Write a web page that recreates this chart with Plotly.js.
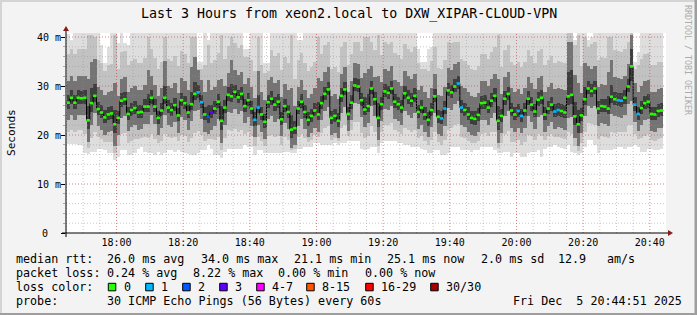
<!DOCTYPE html>
<html><head><meta charset="utf-8">
<script src="https://cdn.plot.ly/plotly-3.0.1.min.js"></script>
<style>html,body{margin:0;padding:0;background:#f3f3f3;}</style>
</head><body>
<div id="chart" style="width:697px;height:315px;"></div>
<script>
// median rtt per minute (ms), 17:45 .. 20:43
const medianMs = [
26.6,27.6,26.6,27.6,27.5,27.6,23.0,26.5,28.0,25.3,
24.6,23.6,24.2,24.4,22.2,23.5,27.0,27.3,24.3,25.1,
25.5,24.6,24.7,25.8,25.8,27.6,25.8,23.5,25.0,27.6,
25.6,25.1,26.1,24.0,27.1,26.5,24.6,26.3,28.4,28.7,
26.7,24.2,23.7,24.6,25.4,26.8,22.9,25.6,28.2,27.9,
28.8,27.7,28.4,25.9,27.1,25.4,23.1,25.6,24.2,22.7,
26.7,27.4,26.2,26.8,23.2,25.9,24.7,21.1,21.4,25.4,
26.8,24.7,23.1,23.9,25.0,24.2,26.5,28.4,29.3,23.5,
23.9,22.9,28.0,29.3,24.3,26.6,30.1,29.9,27.1,25.2,
25.9,29.5,27.3,23.5,26.3,28.9,28.6,29.5,26.8,26.3,
25.6,28.5,27.6,27.0,28.0,24.7,25.6,24.2,23.1,25.1,
27.9,23.7,23.4,25.4,29.1,28.7,29.9,30.5,25.6,25.1,
24.2,23.5,23.3,24.1,26.5,26.6,25.6,27.0,28.0,22.9,
23.9,27.4,28.4,25.0,24.2,24.9,23.9,25.0,27.4,26.2,
24.8,27.2,27.6,24.2,25.4,26.2,24.8,25.1,24.9,24.6,
27.9,28.2,23.8,22.2,24.0,27.3,29.5,29.0,29.5,25.4,
25.9,25.8,25.4,27.8,27.3,27.1,27.0,27.6,29.9,34.0,
26.2,24.3,25.5,26.5,26.8,24.3,24.2,24.9,25.0
];
// smoke: distribution of the 30 pings per minute (ms)
const smokeMin = [
18.1,18.1,18.1,18.0,18.0,16.3,16.1,16.6,16.6,17.2,
17.2,16.9,16.3,16.3,15.0,15.6,16.9,16.9,15.9,15.9,
16.3,17.2,17.6,16.6,16.3,16.3,15.9,16.6,15.9,16.3,
16.9,16.9,16.6,16.9,16.6,16.3,16.1,15.9,15.9,16.3,
16.9,16.9,18.0,17.2,15.9,15.9,15.4,16.6,17.2,17.2,
17.2,17.2,17.2,17.9,17.6,17.6,15.9,16.9,16.9,16.3,
16.3,16.3,16.3,16.3,16.3,16.6,16.6,16.3,16.3,17.2,
17.2,17.6,17.6,17.6,18.4,18.4,18.0,18.0,18.0,18.0,
18.4,18.0,18.4,18.4,18.8,18.8,18.8,18.8,17.2,16.9,
17.2,17.6,17.6,16.3,18.4,18.8,18.8,18.8,18.8,18.4,
18.4,18.0,18.0,17.6,17.6,17.6,17.2,16.9,16.3,16.3,
16.9,16.9,15.9,15.9,16.3,17.6,17.6,17.6,16.9,16.9,
16.9,16.6,16.9,16.9,17.6,17.6,17.6,17.6,16.9,16.3,
16.3,16.6,16.6,15.6,16.3,16.3,15.6,15.6,16.3,16.6,
16.6,16.9,15.6,17.2,17.6,17.6,17.9,17.6,17.4,17.2,
17.9,16.6,16.3,15.9,16.3,17.6,19.0,19.0,18.0,16.3,
16.9,16.9,16.9,16.9,17.2,17.6,17.6,17.2,17.6,17.6,
17.9,17.6,16.6,16.6,17.2,17.2,16.9,16.9,17.2
];
const smokeP10 = [
20.6,21.1,20.6,21.1,21.0,20.2,17.3,19.3,20.6,19.5,
19.2,18.5,18.5,18.6,16.4,17.8,20.2,20.4,18.4,18.8,
19.2,19.2,19.4,19.5,19.3,20.2,19.1,18.3,18.7,20.2,
19.5,19.3,19.6,18.7,20.1,19.7,18.6,19.4,20.4,20.8,
20.1,18.8,19.1,19.2,18.9,19.6,16.9,19.4,21.0,20.8,
21.3,20.7,21.1,20.2,20.6,19.8,17.8,19.5,18.8,17.8,
19.8,20.1,19.5,19.8,18.0,19.5,18.9,16.9,17.1,19.6,
20.3,19.4,18.6,19.0,20.0,19.6,20.5,21.5,21.9,19.0,
19.4,18.7,21.5,22.1,19.8,21.0,22.7,22.6,20.4,19.3,
19.8,21.8,20.7,17.7,20.6,22.1,22.0,22.4,21.1,20.6,
20.3,21.5,21.1,20.6,21.1,19.4,19.7,18.8,18.0,19.0,
20.7,18.6,17.9,18.9,21.0,21.4,22.0,22.3,19.5,19.3,
18.8,18.3,18.4,18.8,20.3,20.4,19.9,20.6,20.7,17.4,
18.4,20.3,20.8,18.6,18.5,18.9,18.0,18.6,20.1,19.7,
19.0,20.3,19.9,19.0,19.8,20.2,19.6,19.6,19.4,19.2,
20.7,20.2,17.8,16.8,18.4,20.7,22.5,22.3,22.0,19.1,
19.7,19.6,19.4,20.6,20.5,20.6,20.6,20.7,22.0,22.0,
20.3,19.2,19.3,19.8,20.3,19.0,18.8,19.2,19.4
];
const smokeP25 = [
23.1,24.1,23.1,24.1,24.0,24.1,18.5,22.0,24.5,21.8,
21.1,20.1,20.7,20.9,17.7,20.0,23.5,23.8,20.8,21.6,
22.0,21.1,21.2,22.3,22.3,24.1,22.3,20.0,21.5,24.1,
22.1,21.6,22.6,20.5,23.6,23.0,21.1,22.8,24.9,25.2,
23.2,20.7,20.2,21.1,21.9,23.3,18.4,22.1,24.7,24.4,
25.3,24.2,24.9,22.4,23.6,21.9,19.6,22.1,20.7,19.2,
23.2,23.9,22.7,23.3,19.7,22.4,21.2,17.4,17.9,21.9,
23.3,21.2,19.6,20.4,21.5,20.7,23.0,24.9,25.8,20.0,
20.4,19.4,24.5,25.8,20.8,23.1,26.6,26.4,23.6,21.7,
22.4,26.0,23.8,19.0,22.8,25.4,25.1,26.0,23.3,22.8,
22.1,25.0,24.1,23.5,24.5,21.2,22.1,20.7,19.6,21.6,
24.4,20.2,19.9,21.9,25.6,25.2,26.4,27.0,22.1,21.6,
20.7,20.0,19.8,20.6,23.0,23.1,22.1,23.5,24.5,18.4,
20.4,23.9,24.9,21.5,20.7,21.4,20.4,21.5,23.9,22.7,
21.3,23.7,24.1,20.7,21.9,22.7,21.3,21.6,21.4,21.1,
23.4,23.7,19.3,17.7,20.5,23.8,26.0,25.5,26.0,21.9,
22.4,22.3,21.9,24.3,23.8,23.6,23.5,24.1,26.4,27.0,
22.7,20.8,22.0,23.0,23.3,20.8,20.7,21.4,21.5
];
const smokeP40 = [
25.4,26.4,25.4,26.4,26.3,26.4,21.2,24.7,26.8,24.1,
23.4,22.4,23.0,23.2,20.4,22.3,25.8,26.1,23.1,23.9,
24.3,23.4,23.5,24.6,24.6,26.4,24.6,22.3,23.8,26.4,
24.4,23.9,24.9,22.8,25.9,25.3,23.4,25.1,27.2,27.5,
25.5,23.0,22.5,23.4,24.2,25.6,21.1,24.4,27.0,26.7,
27.6,26.5,27.2,24.7,25.9,24.2,21.9,24.4,23.0,21.5,
25.5,26.2,25.0,25.6,22.0,24.7,23.5,19.3,20.2,24.2,
25.6,23.5,21.9,22.7,23.8,23.0,25.3,27.2,28.1,22.3,
22.7,21.7,26.8,28.1,23.1,25.4,28.9,28.7,25.9,24.0,
24.7,28.3,26.1,21.7,25.1,27.7,27.4,28.3,25.6,25.1,
24.4,27.3,26.4,25.8,26.8,23.5,24.4,23.0,21.9,23.9,
26.7,22.5,22.2,24.2,27.9,27.5,28.7,29.3,24.4,23.9,
23.0,22.3,22.1,22.9,25.3,25.4,24.4,25.8,26.8,21.1,
22.7,26.2,27.2,23.8,23.0,23.7,22.7,23.8,26.2,25.0,
23.6,26.0,26.4,23.0,24.2,25.0,23.6,23.9,23.7,23.4,
26.1,26.4,22.0,20.4,22.8,26.1,28.3,27.8,28.3,24.2,
24.7,24.6,24.2,26.6,26.1,25.9,25.8,26.4,28.7,31.0,
25.0,23.1,24.3,25.3,25.6,23.1,23.0,23.7,23.8
];
const smokeP60 = [
28.1,29.1,28.1,29.1,29.0,29.1,26.0,29.5,30.5,26.8,
26.1,25.1,25.7,25.9,25.2,25.0,28.5,28.8,25.8,26.6,
27.0,26.1,26.2,27.3,28.3,29.1,27.3,25.0,26.5,30.1,
27.1,26.6,27.6,25.5,28.6,28.0,26.1,28.8,30.9,30.2,
28.2,25.7,26.2,26.1,26.9,28.3,25.9,27.1,29.7,30.4,
30.3,29.2,29.9,27.4,28.6,26.9,24.6,28.1,25.7,24.2,
28.2,28.9,27.7,28.3,24.7,27.4,26.2,24.1,22.9,26.9,
28.3,26.2,24.6,25.4,26.5,26.7,28.0,29.9,30.8,25.0,
25.4,24.4,29.5,30.8,25.8,28.1,31.6,31.4,28.6,27.7,
28.4,31.0,28.8,26.5,27.8,30.4,30.1,31.0,28.3,27.8,
27.1,30.0,29.1,28.5,29.5,26.2,27.1,25.7,24.6,26.6,
29.4,25.2,24.9,26.9,30.6,30.2,31.4,32.0,27.1,26.6,
25.7,25.0,24.8,25.6,28.0,28.1,27.1,28.5,29.5,25.9,
25.4,28.9,29.9,26.5,25.7,26.4,25.4,26.5,28.9,27.7,
26.3,28.7,29.1,25.7,26.9,27.7,26.3,26.6,26.4,26.1,
32.9,33.2,26.8,25.2,25.5,29.8,31.0,30.5,31.0,26.9,
27.4,27.3,27.9,30.3,28.8,28.6,28.5,29.1,31.4,37.5,
27.7,25.8,27.0,28.0,28.3,25.8,25.7,26.4,26.5
];
const smokeP75 = [
31.1,32.1,31.1,32.1,32.0,32.1,31.5,35.0,35.5,29.8,
29.1,28.1,28.7,28.9,30.7,28.0,31.5,31.8,28.8,29.6,
30.0,29.1,29.2,30.3,33.3,32.1,30.3,28.0,29.5,35.1,
30.1,29.6,30.6,28.5,31.6,31.0,29.1,33.8,35.9,33.2,
31.2,28.7,31.2,29.1,29.9,31.3,31.4,30.1,32.7,35.4,
33.3,32.2,32.9,30.4,31.6,29.9,27.6,33.1,28.7,27.2,
31.2,31.9,30.7,31.3,27.7,30.4,29.2,29.6,25.9,29.9,
31.3,29.2,27.6,28.4,29.5,31.7,31.0,32.9,33.8,28.0,
28.4,27.4,32.5,33.8,28.8,31.1,34.6,34.4,31.6,32.7,
33.4,34.0,31.8,32.0,30.8,33.4,33.1,34.0,31.3,30.8,
30.1,33.0,32.1,31.5,32.5,29.2,30.1,28.7,27.6,29.6,
32.4,28.2,27.9,29.9,33.6,33.2,34.4,35.0,30.1,29.6,
28.7,28.0,27.8,28.6,31.0,31.1,30.1,31.5,32.5,31.4,
28.4,31.9,32.9,29.5,28.7,29.4,28.4,29.5,31.9,30.7,
29.3,31.7,32.1,28.7,29.9,30.7,29.3,29.6,29.4,29.1,
39.0,39.0,32.3,30.7,28.5,34.8,34.0,33.5,34.0,29.9,
30.4,30.3,32.9,35.3,31.8,31.6,31.5,32.1,34.4,40.5,
30.7,28.8,30.0,31.0,31.3,28.8,28.7,29.4,29.5
];
const smokeP90 = [
36.6,37.6,36.6,37.6,37.5,37.6,40.5,40.5,40.0,35.3,
34.6,33.1,34.2,34.4,40.5,33.5,37.0,37.2,34.3,35.1,
35.5,34.6,34.7,35.8,40.0,37.6,35.8,33.5,35.0,40.0,
35.6,35.1,36.1,34.0,37.1,36.5,34.6,40.0,40.0,33.5,
33.5,34.2,38.4,34.6,35.4,36.8,40.5,35.6,38.2,40.0,
38.8,37.7,38.4,35.9,36.0,35.4,33.1,40.0,34.2,32.7,
33.1,37.4,36.2,36.8,33.2,35.9,34.7,40.5,31.4,35.4,
36.8,34.7,33.1,33.9,35.0,40.0,36.5,38.4,39.0,33.5,
33.9,32.9,38.0,39.0,34.3,36.6,39.0,39.0,37.1,40.0,
40.0,39.0,37.3,40.5,36.3,38.9,38.6,39.0,36.8,36.3,
35.6,38.5,37.6,37.0,38.0,34.7,33.5,33.5,33.1,35.1,
37.9,33.7,33.4,35.4,39.0,38.7,39.0,39.0,35.6,35.1,
34.2,33.5,33.3,34.1,36.5,36.6,35.6,37.0,38.0,40.5,
33.9,37.4,38.4,35.0,34.2,34.9,33.9,35.0,37.4,36.2,
34.8,37.2,37.6,34.2,35.4,36.2,34.8,35.1,34.9,34.6,
42.0,42.0,38.4,40.5,34.0,40.0,37.9,38.5,39.0,35.4,
35.9,35.8,40.0,40.0,37.3,37.1,37.0,37.6,39.0,42.5,
33.5,34.3,35.5,36.5,36.8,34.3,34.2,34.9,35.0
];
const smokeMax = [
40.6,39.4,44,44,44,44,44,45,44,44,
38.4,34.6,38.0,44,44,38.7,44,38.7,38.4,44,
44,44,44,44,44,44,44,44,44,44,
44,44,44,44,44,44,44,44,44,35.0,
35.0,44,39.4,44,44,44,44,44,44,45,
44,44,44,37.5,37.5,44,44,45,44,34.6,
34.6,44,44,44,44,44,44,44,44,39.4,
39.4,44,44,44,44,45,44,44,44,44,
44,44,44,44,44,44,44,44,44,45,
45,44,44,44,44,44,44,44,44,44,
44,44,44,44,44,37.5,35.0,35.0,37.5,38.0,
44,44,44,44,44,44,44,44,44,44,
44,44,44,44,44,44,44,44,44,44,
44,44,44,44,44,44,44,44,44,44,
44,44,44,44,44,44,44,44,44,44,
45,45,39.4,44,44,45,39.4,40.0,44,44,
44,44,45,45,44,44,44,44,44,45,
35.0,37.0,44,44,44,44,44,44,44
];
// lost pings (of 30) per minute: [minute index, lost]
const lossEvents = [[39,1],[40,1],[42,2],[43,3],[56,1],[57,1],[112,1],[113,1],[117,1],[118,1],
  [135,1],[136,1],[146,1],[147,1],[165,1],[166,1],[170,1],[171,1]];
const lossLabels = ['0','1','2','3','4-7','8-15','16-29','30/30'];
const lossColors = ['#26ff00','#00b8ff','#0059ff','#5e00ff','#ff00ff','#ff5500','#ff0000','#a00000'];
const smokeColors = ['#dedede','#c2c2c2','#747474','#3e3e3e'];

const N = medianMs.length;
const lostPings = new Array(N).fill(0);
lossEvents.forEach(e => lostPings[e[0]] = e[1]);
function lossColor(n){
  if(n<=3) return lossColors[n];
  if(n<=7) return lossColors[4];
  if(n<=15) return lossColors[5];
  if(n<=29) return lossColors[6];
  return lossColors[7];
}

const startMs = Date.UTC(2025,11,5,17,45,0);
const stepMs = 60000;
const rangeStart = Date.UTC(2025,11,5,17,44,51);
const rangeEnd = Date.UTC(2025,11,5,20,44,51);

const centers = medianMs.map((_,i)=>startMs + i*stepMs + stepMs/2);
const bounds = [], stepY = [];
for(let i=0;i<=N;i++){ bounds.push(startMs+i*stepMs); stepY.push(medianMs[Math.min(i,N-1)]); }

const MONO = 'DejaVu Sans Mono, monospace';
const L=66, T=33, W=600, H=200;
const px = p => (p-L)/W;
const py = p => (T+H-p)/H;
const tx = t => (t-rangeStart)/(rangeEnd-rangeStart);

const bands = [[smokeMin,smokeMax],[smokeP10,smokeP90],[smokeP25,smokeP75],[smokeP40,smokeP60]];
const traces = bands.map((b,k)=>({
  type:'bar', x:centers, base:b[0], y:b[1].map((v,i)=>v-b[0][i]), width:stepMs,
  marker:{color:smokeColors[k], line:{width:0}}, hoverinfo:'skip'
}));
traces.push({type:'scatter', mode:'lines', x:bounds, y:stepY, line:{shape:'hv', color:'#000000', width:1}, hoverinfo:'skip'});
traces.push({type:'scatter', mode:'markers', x:centers, y:medianMs,
   marker:{symbol:'line-ew-open', size:2.5, color:lostPings.map(lossColor), line:{width:2.6}}, hoverinfo:'skip'});

const shapes = [];
for(let t=Date.UTC(2025,11,5,17,45); t<rangeEnd; t+=5*60000){
  const major = ((t - Date.UTC(2025,11,5,18,0)) % (20*60000)) === 0;
  shapes.push({type:'line', xref:'paper', yref:'paper', x0:tx(t), x1:tx(t), y0:0, y1:1,
    line:{color: major ? 'rgba(200,80,80,0.7)' : 'rgba(150,150,150,0.5)', width:1, dash:'1px,2px'}});
}
for(let v=2; v<=40; v+=2){
  const major = v%10===0;
  shapes.push({type:'line', xref:'paper', yref:'y', x0:0, x1:1, y0:v, y1:v,
    line:{color: major ? 'rgba(200,80,80,0.7)' : 'rgba(150,150,150,0.5)', width:1, dash:'1px,2px'}});
}
shapes.push({type:'line', xref:'paper', yref:'paper', x0:px(62), x1:px(669), y0:0, y1:0, line:{color:'#000', width:1}});
shapes.push({type:'line', xref:'paper', yref:'paper', x0:0, x1:0, y0:py(237), y1:py(30), line:{color:'#000', width:1}});
shapes.push({type:'path', xref:'paper', yref:'paper',
  path:`M ${px(668)} ${py(230)} L ${px(673)} ${py(233)} L ${px(668)} ${py(236)} Z`, fillcolor:'#8b1a1a', line:{width:0}});
shapes.push({type:'path', xref:'paper', yref:'paper',
  path:`M ${px(63)} ${py(31)} L ${px(66)} ${py(26)} L ${px(69)} ${py(31)} Z`, fillcolor:'#8b1a1a', line:{width:0}});
shapes.push({type:'rect', xref:'paper', yref:'paper', x0:px(0), x1:px(697), y0:py(0), y1:py(2), fillcolor:'#d4d4d4', line:{width:0}, layer:'below'});
shapes.push({type:'rect', xref:'paper', yref:'paper', x0:px(0), x1:px(2), y0:py(0), y1:py(315), fillcolor:'#d4d4d4', line:{width:0}, layer:'below'});
shapes.push({type:'rect', xref:'paper', yref:'paper', x0:px(0), x1:px(697), y0:py(313), y1:py(315), fillcolor:'#9e9e9e', line:{width:0}});
shapes.push({type:'rect', xref:'paper', yref:'paper', x0:px(694.5), x1:px(697), y0:py(0), y1:py(315), fillcolor:'#9e9e9e', line:{width:0}});

const annotations = [];
function txt(x, y, s, size, opts){
  annotations.push(Object.assign({xref:'paper', yref:'paper', x:px(x), y:py(y), xanchor:'left', yanchor:'middle',
    text:s.replace(/ /g,'\u00a0'), showarrow:false, borderpad:0, borderwidth:0,
    font:{family:MONO, size:size, color:'#000'}}, opts||{}));
}
txt(348.5, 13.5, 'Last 3 Hours from xeon2.local to DXW_XIPAR-CLOUD-VPN', 13.3, {xanchor:'center'});
txt(11, 133, 'Seconds', 11.1, {xanchor:'center', textangle:-90});
txt(688, 60, 'RRDTOOL / TOBI OETIKER', 8.3, {xanchor:'center', textangle:90, font:{family:MONO, size:8.3, color:'#ababab'}});
const yTickVals = [10,20,30,40];
const yTickText = ['10 m','20 m','30 m','40 m'];
yTickVals.forEach((v,i)=>txt(60.5, 233-v*4.9, yTickText[i], 10, {xanchor:'right'}));
txt(45, 233, '0', 10, {xanchor:'center'});

const LS = 11.7;
const rows = [
  [259.3, [[16,'median rtt:'],[107.3,'26.0 ms avg'],[200.6,'34.0 ms max'],[293.9,'21.1 ms min'],[387.2,'25.1 ms now'],[480.5,'2.0 ms sd'],[558.3,'12.9'],[606.7,'am/s']]],
  [273.3, [[16,'packet loss:'],[107.3,'0.24 % avg'],[192.7,'8.22 % max'],[278.3,'0.00 % min'],[364.5,'0.00 % now']]],
  [287.0, [[16,'loss color:']]],
  [301.0, [[16,'probe:'],[107.3,'30 ICMP Echo Pings (56 Bytes) every 60s'],[513.3,'Fri Dec  5 20:44:51 2025']]]
];
rows.forEach(r => r[1].forEach(s => txt(s[0], r[0], s[1], LS)));
const sqX = [108.3,145.7,182.7,219.7,256.7,306.7,365.7,430.7];
sqX.forEach((x,i)=>{
  shapes.push({type:'rect', xref:'paper', yref:'paper', x0:px(x), x1:px(x+7.5), y0:py(283.3), y1:py(290.8),
    fillcolor:lossColors[i], line:{color:'#000', width:1}});
  txt(x+15.5, 287, lossLabels[i], LS);
});

const layout = {
  width:697, height:315,
  margin:{l:L, r:697-L-W, t:T, b:315-T-H, pad:0},
  paper_bgcolor:'#f3f3f3', plot_bgcolor:'#ffffff',
  showlegend:false, barmode:'overlay', bargap:0,
  xaxis:{type:'date', range:[rangeStart, rangeEnd], tickformat:'%H:%M', dtick:20*60000,
    tick0:Date.UTC(2025,11,5,18,0), showgrid:false, zeroline:false, showline:false, ticks:'',
    tickfont:{family:MONO, size:10, color:'#000'}, ticklabelstandoff:2, fixedrange:true},
  yaxis:{range:[0,40.82], tickvals:[0,10,20,30,40], showticklabels:false,
    showgrid:false, zeroline:false, showline:false, ticks:'outside', ticklen:4, tickcolor:'#000',
    minor:{dtick:2, ticks:'outside', ticklen:2, tickcolor:'#aaaaaa', showgrid:false}, fixedrange:true},
  shapes:shapes, annotations:annotations
};
Plotly.newPlot('chart', traces, layout, {staticPlot:true, displayModeBar:false});
</script>
</body></html>
